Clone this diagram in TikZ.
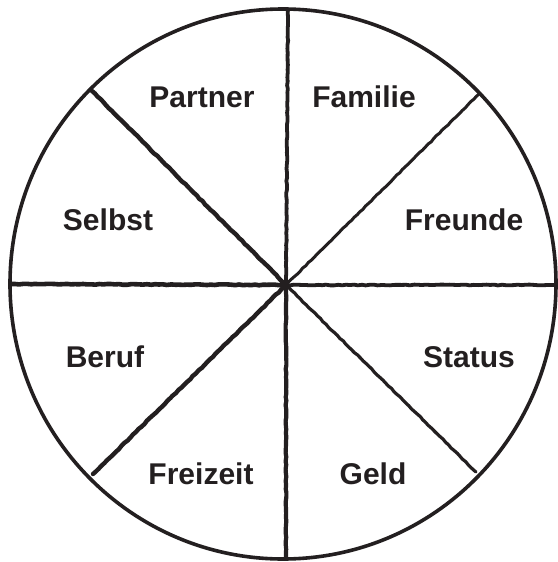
\documentclass[tikz,border=0pt]{standalone}
\usepackage{fontspec}
\setmainfont{Liberation Sans}
\usetikzlibrary{decorations.pathmorphing}
\definecolor{ink}{HTML}{231F20}
\begin{document}
\begin{tikzpicture}[x=1pt,y=-1pt,
  rough/.style={decorate,decoration={random steps,segment length=4pt,amplitude=0.4pt}},
  rim/.style={draw=ink,line width=3.6pt},
  spoke/.style={draw=ink,line width=#1,line cap=round,rough},
  lbl/.style={text=ink,font=\fontsize{30}{32}\selectfont\bfseries,inner sep=0pt,anchor=center}]
\useasboundingbox (0,0) rectangle (557,562);
\fill[white] (0,0) rectangle (557,562);
\coordinate (c) at (286,285);
\draw[rim] (283,284) ellipse [x radius=273,y radius=275];
\coordinate (n) at (288,9);
\coordinate (s) at (286,557);
\coordinate (w) at (11,284);
\coordinate (e) at (555,285);
\coordinate (nw) at (92,91);
\coordinate (ne) at (480,93);
\coordinate (sw) at (93,474);
\coordinate (se) at (476,472);
\draw[spoke=3.8pt] (n) -- (c);
\draw[spoke=4.2pt] (c) -- (s);
\draw[spoke=4.6pt] (w) -- (c);
\draw[spoke=3.8pt] (c) -- (e);
\draw[spoke=4.4pt] (nw) -- (c);
\draw[spoke=3pt] (c) -- (ne);
\draw[spoke=4.4pt] (sw) -- (c);
\draw[spoke=3.2pt] (c) -- (se);
\node[lbl] (partner) at (202,97) {Partner};
\node[lbl] (familie) at (364,97) {Familie};
\node[lbl] (selbst) at (108,220) {Selbst};
\node[lbl] (freunde) at (464,220) {Freunde};
\node[lbl] (beruf) at (105,357) {Beruf};
\node[lbl] (status) at (469,357) {Status};
\node[lbl] (freizeit) at (201,474) {Freizeit};
\node[lbl] (geld) at (373,474) {Geld};
\end{tikzpicture}
\end{document}
